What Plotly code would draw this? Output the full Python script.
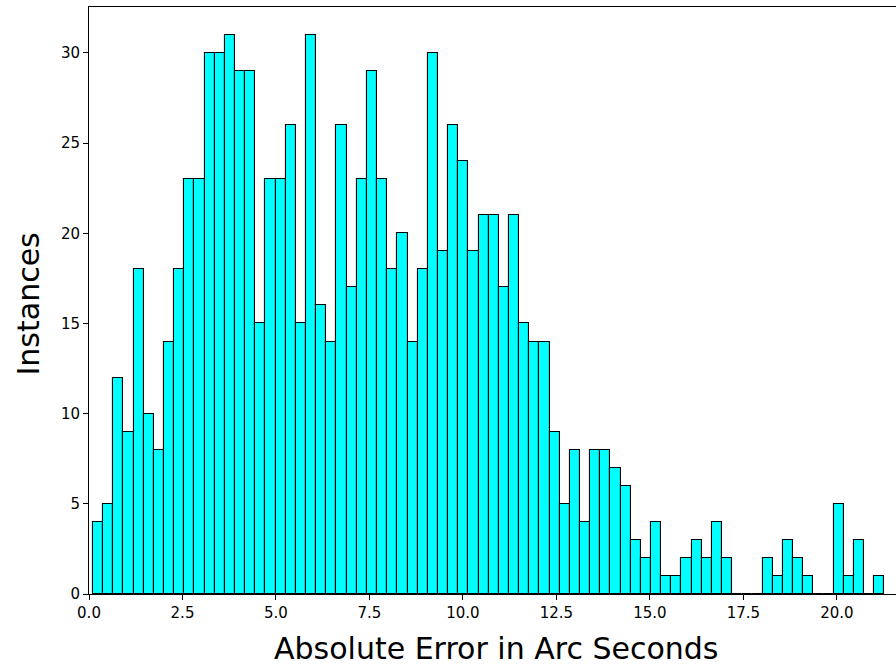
import plotly.graph_objects as go

# Histogram data
bin_start = 0.107
bin_width = 0.2713
counts = [4, 5, 12, 9, 18, 10, 8, 14, 18, 23, 23, 30, 30, 31, 29, 29, 15, 23, 23, 26,
          15, 31, 16, 14, 26, 17, 23, 29, 23, 18, 20, 14, 18, 30, 19, 26, 24, 19, 21, 21,
          17, 21, 15, 14, 14, 9, 5, 8, 4, 8, 8, 7, 6, 3, 2, 4, 1, 1, 2, 3,
          2, 4, 2, 0, 0, 0, 2, 1, 3, 2, 1, 0, 0, 5, 1, 3, 0, 1]
x_ticks = [0.0, 2.5, 5.0, 7.5, 10.0, 12.5, 15.0, 17.5, 20.0]
y_ticks = [0, 5, 10, 15, 20, 25, 30]
x_label = "Absolute Error in Arc Seconds"
y_label = "Instances"

centers = [bin_start + (i + 0.5) * bin_width for i in range(len(counts))]

fig = go.Figure()
fig.add_trace(go.Bar(
    x=centers, y=counts, width=[bin_width] * len(counts),
    marker=dict(color="#00FFFF", line=dict(color="black", width=1.1)),
    hoverinfo="x+y",
))

font = "DejaVu Sans"
fig.update_layout(
    width=896, height=666,
    margin=dict(l=89, r=0, t=7, b=72),
    plot_bgcolor="white", paper_bgcolor="white",
    showlegend=False,
    bargap=0,
    font=dict(family=font, size=15, color="black"),
    xaxis=dict(range=[0, 21.58], tickvals=x_ticks, ticktext=[f"{v:.1f}" for v in x_ticks],
               showgrid=False, zeroline=False, showline=True, linecolor="black", linewidth=1,
               mirror=True, ticks="outside", ticklen=5, tickwidth=1, tickcolor="black",
               tickfont=dict(family=font, size=15, color="black")),
    yaxis=dict(range=[0, 32.55], tickvals=y_ticks,
               showgrid=False, zeroline=False, showline=True, linecolor="black", linewidth=1,
               ticks="outside", ticklen=5, tickwidth=1, tickcolor="black",
               tickfont=dict(family=font, size=15, color="black")),
    annotations=[
        dict(text=x_label, xref="paper", yref="paper", x=(496 - 89) / 807, y=0,
             xanchor="center", yanchor="middle", yshift=-54, showarrow=False,
             font=dict(family=font, size=30, color="black")),
        dict(text=y_label, xref="paper", yref="paper", x=0, y=(594 - 304.5) / 587,
             xanchor="center", yanchor="middle", xshift=-61, textangle=-90, showarrow=False,
             font=dict(family=font, size=30, color="black")),
    ],
)

fig.write_html("out.html", config={"displayModeBar": False},
               post_script="document.body.style.margin='0px';document.body.style.overflow='hidden';")
